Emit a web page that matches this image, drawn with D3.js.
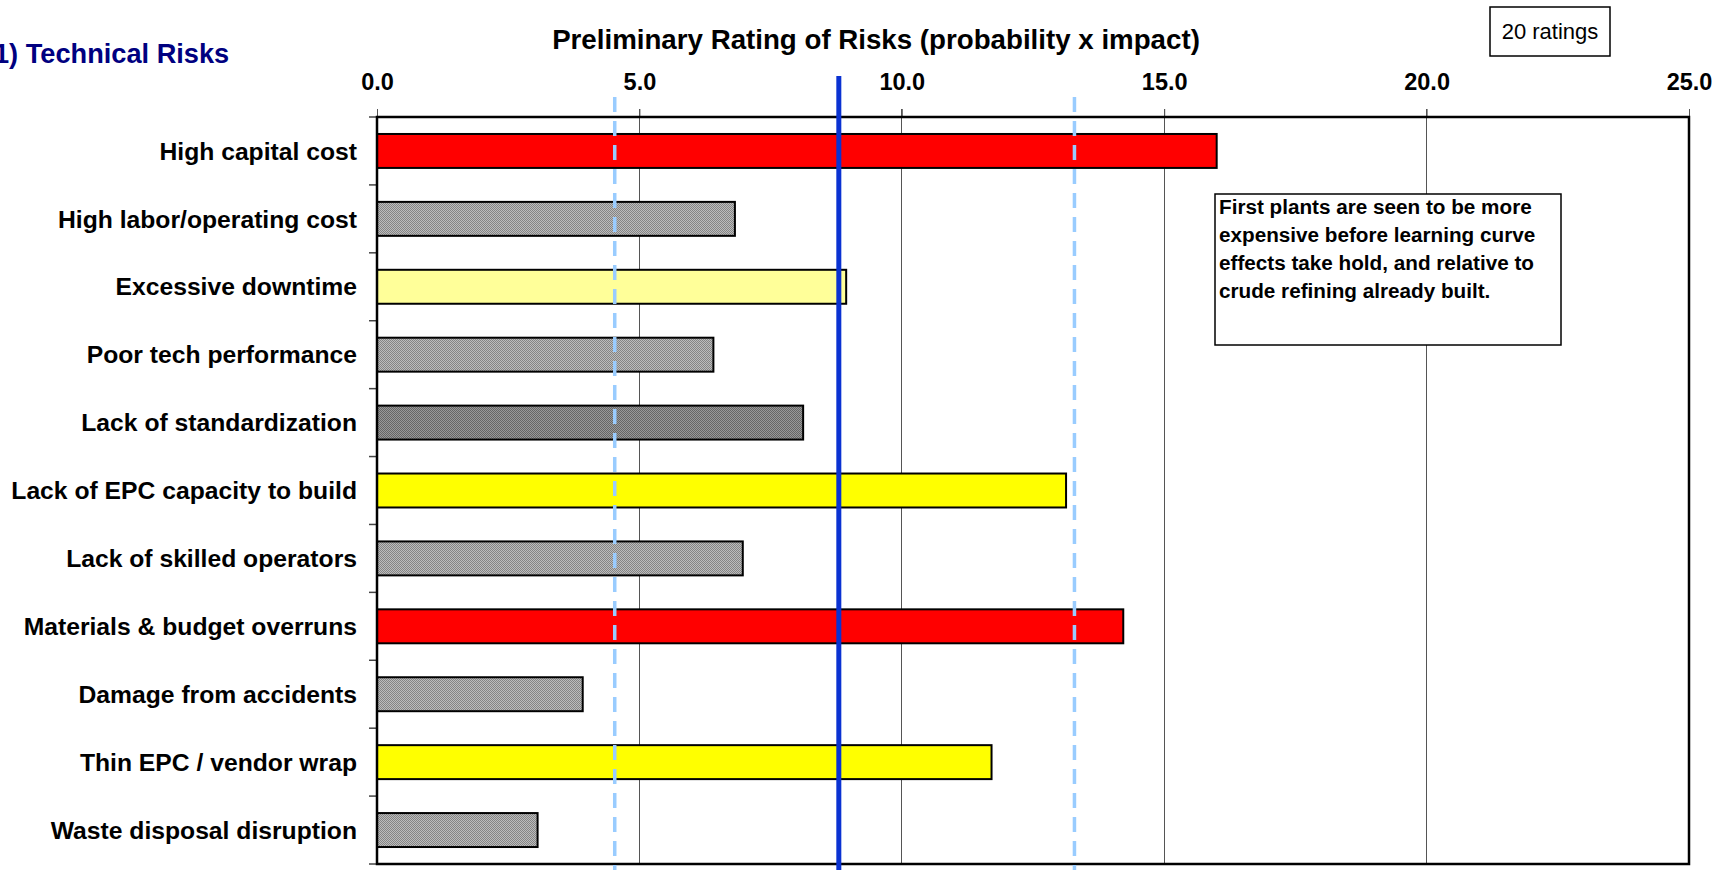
<!DOCTYPE html>
<html>
<head>
<meta charset="utf-8">
<script src="https://cdn.jsdelivr.net/npm/d3@7"></script>
<style>
  html, body { margin: 0; padding: 0; background: #fff; }
  svg { display: block; }
  text { font-family: "Liberation Sans", Arial, sans-serif; }
</style>
</head>
<body>
<svg id="chart" width="1726" height="870"></svg>
<script>
// ---- data ----
const categories = [
  "High capital cost",
  "High labor/operating cost",
  "Excessive downtime",
  "Poor tech performance",
  "Lack of standardization",
  "Lack of EPC capacity to build",
  "Lack of skilled operators",
  "Materials & budget overruns",
  "Damage from accidents",
  "Thin EPC / vendor wrap",
  "Waste disposal disruption"
];
const ratings = [16.0, 6.82, 8.94, 6.41, 8.12, 13.13, 6.97, 14.22, 3.92, 11.71, 3.06];
const riskLevel = ["red", "gray", "lightyellow", "gray", "darkgray", "yellow", "gray", "red", "gray", "yellow", "gray"];
const xTicks = [0, 5, 10, 15, 20, 25];
const meanRating = 8.8;
const bandLow = 4.53;
const bandHigh = 13.29;
const chartTitle = "Preliminary Rating of Risks (probability x impact)";
const sectionTitle = "1) Technical Risks";
const countLabel = "20 ratings";
const noteLines = [
  "First plants are seen to be more",
  "expensive before learning curve",
  "effects take hold, and relative to",
  "crude refining already built."
];

// ---- layout ----
const svg = d3.select("#chart");
const plot = { left: 377, right: 1689, top: 117, bottom: 864 };

const x = d3.scaleLinear().domain([0, 25]).range([plot.left, plot.right]);
const y = d3.scaleBand().domain(categories).range([plot.top, plot.bottom])
  .paddingInner(0.5).paddingOuter(0.25);

// patterns
const defs = svg.append("defs");
function checker(id, c1, c2) {
  const p = defs.append("pattern").attr("id", id).attr("width", 2).attr("height", 2)
    .attr("patternUnits", "userSpaceOnUse");
  p.append("rect").attr("width", 2).attr("height", 2).attr("fill", c1);
  p.append("rect").attr("width", 1).attr("height", 1).attr("fill", c2);
  p.append("rect").attr("x", 1).attr("y", 1).attr("width", 1).attr("height", 1).attr("fill", c2);
}
checker("pGray", "#bcbcbc", "#848484");
checker("pDark", "#999999", "#666666");

const fills = {
  red: "#ff0000",
  yellow: "#ffff00",
  lightyellow: "#ffff99",
  gray: "url(#pGray)",
  darkgray: "url(#pDark)"
};

// gridlines with top ticks
svg.append("g").selectAll("line").data(xTicks.filter(d => d > 0 && d < 25)).join("line")
  .attr("x1", d => x(d)).attr("x2", d => x(d))
  .attr("y1", plot.top - 8).attr("y2", plot.bottom)
  .attr("stroke", "#555").attr("stroke-width", 1).attr("shape-rendering", "crispEdges");

// top axis labels
const xAxis = d3.axisTop(x).tickValues(xTicks).tickFormat(d3.format(".1f")).tickSize(8).tickPadding(19);
const gx = svg.append("g").attr("transform", `translate(0,${plot.top})`).call(xAxis);
gx.select(".domain").remove();
gx.selectAll(".tick line").attr("stroke", "#555");
gx.selectAll(".tick text").attr("font-size", 23.5).attr("font-weight", "bold")
  .attr("fill", "#000").attr("font-family", "Liberation Sans, Arial, sans-serif");

// left axis tick marks at band boundaries
const bounds = d3.range(categories.length + 1).map(i => plot.top + i * (plot.bottom - plot.top) / categories.length);
svg.append("g").selectAll("line").data(bounds).join("line")
  .attr("x1", plot.left - 8).attr("x2", plot.left)
  .attr("y1", d => d).attr("y2", d => d)
  .attr("stroke", "#444").attr("stroke-width", 1.5);

// bars
svg.append("g").selectAll("rect").data(categories).join("rect")
  .attr("x", x(0))
  .attr("y", d => y(d))
  .attr("width", (d, i) => x(ratings[i]) - x(0))
  .attr("height", y.bandwidth())
  .attr("fill", (d, i) => fills[riskLevel[i]])
  .attr("stroke", "#000").attr("stroke-width", 2);

// category labels
svg.append("g").selectAll("text").data(categories).join("text")
  .attr("x", plot.left - 20)
  .attr("y", d => y(d) + y.bandwidth() / 2)
  .attr("dy", "0.35em")
  .attr("text-anchor", "end")
  .attr("font-size", 24.7).attr("font-weight", "bold").attr("fill", "#000")
  .text(d => d);

// plot border
svg.append("rect")
  .attr("x", plot.left).attr("y", plot.top)
  .attr("width", plot.right - plot.left).attr("height", plot.bottom - plot.top)
  .attr("fill", "none").attr("stroke", "#000").attr("stroke-width", 2.5);

// dashed band lines
svg.append("g").selectAll("line").data([bandLow, bandHigh]).join("line")
  .attr("x1", d => x(d)).attr("x2", d => x(d))
  .attr("y1", 97).attr("y2", 870)
  .attr("stroke", "#99ccff").attr("stroke-width", 3.5)
  .attr("stroke-dasharray", "15,9");

// mean line
svg.append("line")
  .attr("x1", x(meanRating)).attr("x2", x(meanRating))
  .attr("y1", 76).attr("y2", 870)
  .attr("stroke", "#0a32d2").attr("stroke-width", 5);

// titles
svg.append("text").attr("x", 876).attr("y", 49).attr("text-anchor", "middle")
  .attr("font-size", 27.7).attr("font-weight", "bold").attr("fill", "#000")
  .text(chartTitle);

svg.append("text").attr("x", -6).attr("y", 63).attr("text-anchor", "start")
  .attr("font-size", 27.2).attr("font-weight", "bold").attr("fill", "#000080")
  .text(sectionTitle);

// ratings count box
svg.append("rect").attr("x", 1490).attr("y", 7).attr("width", 120).attr("height", 49)
  .attr("fill", "#fff").attr("stroke", "#000").attr("stroke-width", 1.5);
svg.append("text").attr("x", 1550).attr("y", 39).attr("text-anchor", "middle")
  .attr("font-size", 22).attr("fill", "#000").text(countLabel);

// note box
svg.append("rect").attr("x", 1215).attr("y", 194).attr("width", 346).attr("height", 151)
  .attr("fill", "#fff").attr("stroke", "#000").attr("stroke-width", 1.5);
svg.append("g").selectAll("text").data(noteLines).join("text")
  .attr("x", 1219).attr("y", (d, i) => 214 + i * 27.9)
  .attr("font-size", 20.7).attr("font-weight", "bold").attr("fill", "#000")
  .text(d => d);
</script>
</body>
</html>
